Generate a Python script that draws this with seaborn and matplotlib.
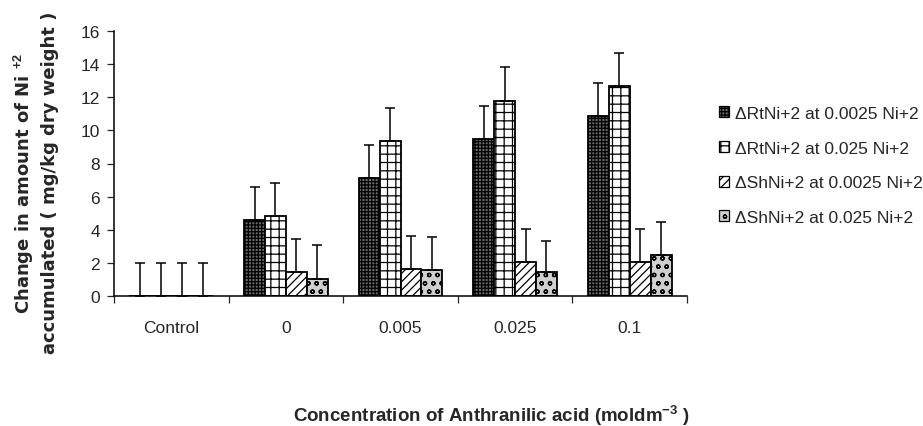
import matplotlib
matplotlib.use("Agg")
import matplotlib.pyplot as plt
from matplotlib.patches import Patch
import numpy as np
import pandas as pd
import seaborn as sns

categories = ["Control", "0", "0.005", "0.025", "0.1"]
series = [
    "\u0394RtNi+2 at 0.0025 Ni+2",
    "\u0394RtNi+2 at 0.025 Ni+2",
    "\u0394ShNi+2 at 0.0025 Ni+2",
    "\u0394ShNi+2 at 0.025 Ni+2",
]
rt_0025 = [0.0, 4.6, 7.1, 9.5, 10.85]
rt_025 = [0.0, 4.85, 9.35, 11.8, 12.7]
sh_0025 = [0.0, 1.45, 1.65, 2.05, 2.05]
sh_025 = [0.0, 1.05, 1.55, 1.45, 2.45]
err_rt_0025 = [2.0, 2.0, 2.0, 2.0, 2.0]
err_rt_025 = [2.0, 2.0, 2.0, 2.0, 2.0]
err_sh_0025 = [2.0, 2.0, 2.0, 2.0, 2.0]
err_sh_025 = [2.0, 2.0, 2.0, 1.9, 2.0]

values = [rt_0025, rt_025, sh_0025, sh_025]
errors = [err_rt_0025, err_rt_025, err_sh_0025, err_sh_025]
hatches = ["+++++", "++", "////", "oo"]
faces = ["#6a6a6a", "white", "white", "#cfcfcf"]

rows = []
for s, vals in zip(series, values):
    for c, v in zip(categories, vals):
        rows.append({"cat": c, "series": s, "val": v})
df = pd.DataFrame(rows)

sns.set_style("white")
plt.rcParams["font.family"] = ["Liberation Sans", "DejaVu Sans"]
plt.rcParams["mathtext.fontset"] = "custom"
plt.rcParams["mathtext.rm"] = "Liberation Sans"
plt.rcParams["mathtext.bf"] = "Liberation Sans:bold"
plt.rcParams["hatch.linewidth"] = 0.9

fig = plt.figure(figsize=(9.23, 4.27), dpi=100)
ax = fig.add_axes([114 / 923, 1 - 297 / 427, (687 - 114) / 923, (297 - 32) / 427])

sns.barplot(data=df, x="cat", y="val", hue="series", order=categories,
            hue_order=series, width=0.73, errorbar=None,
            palette=faces, saturation=1, edgecolor="black", linewidth=1.3,
            legend=False, ax=ax)

n = len(categories)
bar_groups = list(ax.containers)
for i, cont in enumerate(bar_groups):
    xs = []
    for bar in cont:
        bar.set_hatch(hatches[i])
        bar.set_edgecolor("black")
        xs.append(bar.get_x() + bar.get_width() / 2)
    xs = np.array(xs)
    ax.errorbar(xs, values[i], yerr=[np.zeros(n), errors[i]], fmt="none",
                ecolor="black", elinewidth=1.1, capsize=3.5, capthick=1.1)

ax.set_xlim(-0.5, n - 0.5)
ax.set_ylim(0, 16)
ax.set_yticks(np.arange(0, 17, 2))
ax.set_xticks(range(n))
ax.set_xticklabels(categories)
ax.set_xticks(np.arange(-0.5, n, 1), minor=True)
ax.tick_params(axis="x", which="major", length=0, pad=17, labelsize=12.5)
ax.tick_params(axis="x", which="minor", length=5, width=0.9, direction="out", bottom=True)
ax.tick_params(axis="y", length=5, width=0.9, direction="out", left=True, pad=5, labelsize=12.5)
for side in ["top", "right"]:
    ax.spines[side].set_visible(False)
for side in ["left", "bottom"]:
    ax.spines[side].set_color("black")
    ax.spines[side].set_linewidth(1.1)
ax.set_xlabel("")
ax.set_ylabel("")

fig.text(35.5 / 923, 1 - 183 / 427,
         "Change in amount of Ni $^{\\mathbf{+2}}$\naccumulated ( mg/kg dry weight )",
         rotation=90, ha="center", va="center", multialignment="center",
         fontsize=13, fontweight="bold", linespacing=1.3,
         family=["DejaVu Sans"])
fig.text(491 / 923, 1 - 416 / 427,
         "Concentration of Anthranilic acid (moldm$^{\\mathbf{-3}}$ )",
         ha="center", va="center", fontsize=13.5, fontweight="bold")

handles = [Patch(facecolor=f, edgecolor="black", hatch=h, linewidth=0.9)
           for f, h in zip(faces, hatches)]
ax.legend(handles, series, loc="upper left", bbox_to_anchor=(719 / 923, 1 - 107 / 427),
          bbox_transform=fig.transFigure, frameon=False, fontsize=12.5,
          handlelength=0.6, handleheight=0.6, handletextpad=0.35,
          labelspacing=1.13, borderaxespad=0, borderpad=0)

plt.savefig("out.png", dpi=100)
plt.close()
